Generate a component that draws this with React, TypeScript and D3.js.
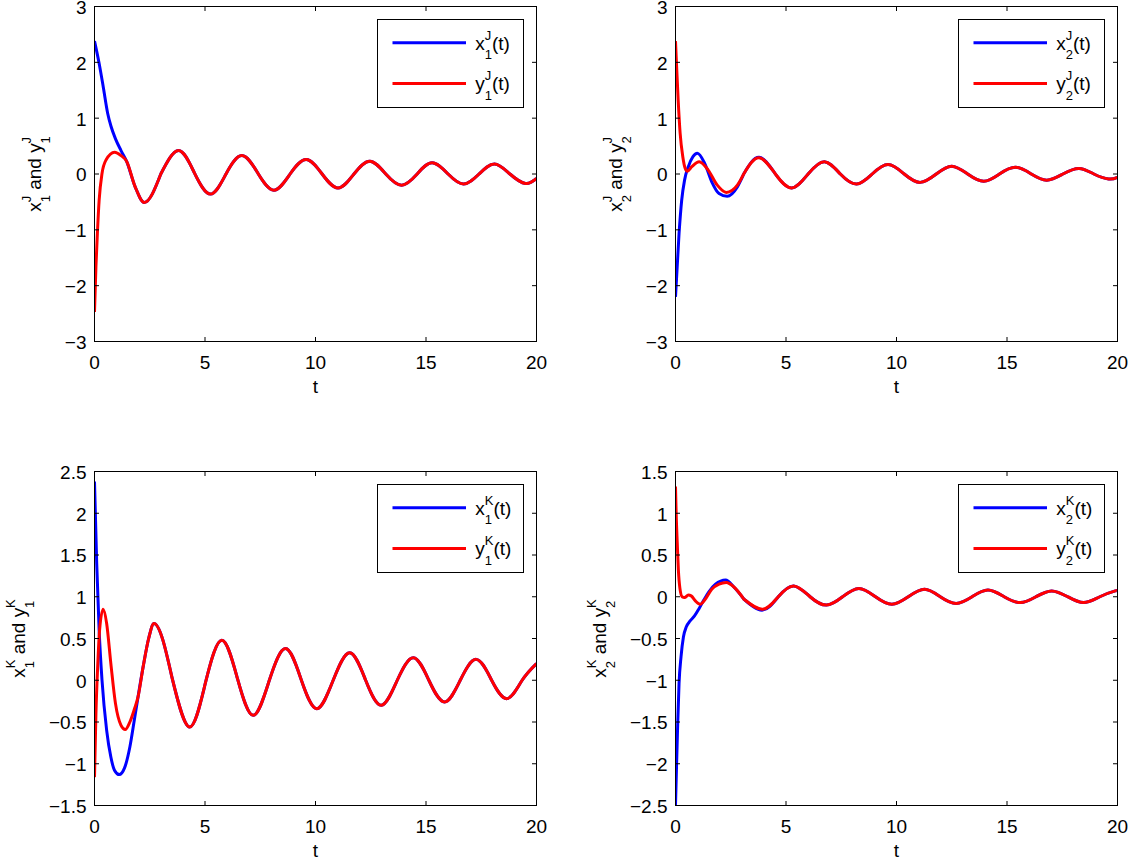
import React from 'react';
import * as d3 from 'd3';

type Pt = [number, number];

const tTicks = [0, 5, 10, 15, 20];
const yTicksTop = [-3, -2, -1, 0, 1, 2, 3];
const yTicksBL = [-1.5, -1, -0.5, 0, 0.5, 1, 1.5, 2, 2.5];
const yTicksBR = [-2.5, -2, -1.5, -1, -0.5, 0, 0.5, 1, 1.5];

// Top-left: x1^J (blue), y1^J (red)
const x1J: Pt[] = [
  [0, 2.38], [0.2, 2.0], [0.4, 1.55], [0.6, 1.08], [0.75, 0.85], [0.95, 0.63], [1.2, 0.42],
  [1.45, 0.23], [1.84, -0.23], [2.25, -0.51], [3.0, 0.0], [3.8, 0.42], [4.52, 0.02], [5.25, -0.36],
  [5.95, 0.0], [6.67, 0.33], [7.4, 0.01], [8.12, -0.29], [8.85, 0.0], [9.58, 0.26], [10.3, 0.0],
  [11.02, -0.25], [11.74, 0.0], [12.46, 0.23], [13.18, 0.0], [13.9, -0.2], [14.6, 0.0], [15.28, 0.2],
  [16.0, 0.0], [16.7, -0.18], [17.4, 0.0], [18.1, 0.18], [18.8, 0.0], [19.5, -0.17], [20, -0.08],
];
const y1J: Pt[] = [
  [0, -2.47], [0.065, -1.66], [0.13, -1.07], [0.21, -0.47], [0.34, 0.01], [0.52, 0.25], [0.91, 0.39],
  [1.2, 0.33], [1.45, 0.23], [1.84, -0.23], [2.25, -0.51], [3.0, 0.0], [3.8, 0.42], [4.52, 0.02],
  [5.25, -0.36], [5.95, 0.0], [6.67, 0.33], [7.4, 0.01], [8.12, -0.29], [8.85, 0.0], [9.58, 0.26],
  [10.3, 0.0], [11.02, -0.25], [11.74, 0.0], [12.46, 0.23], [13.18, 0.0], [13.9, -0.2], [14.6, 0.0],
  [15.28, 0.2], [16.0, 0.0], [16.7, -0.18], [17.4, 0.0], [18.1, 0.18], [18.8, 0.0], [19.5, -0.17], [20, -0.08],
];

// Top-right: x2^J (blue), y2^J (red)
const x2J: Pt[] = [
  [0, -2.2], [0.16, -1.07], [0.28, -0.47], [0.41, -0.11], [0.58, 0.13], [0.79, 0.31], [0.99, 0.37],
  [1.32, 0.19], [1.64, -0.14], [1.97, -0.35], [2.34, -0.4], [2.8, -0.23], [3.1, 0.01], [3.78, 0.3],
  [4.52, 0.0], [5.26, -0.25], [6.0, 0.0], [6.74, 0.22], [7.46, 0.0], [8.19, -0.18], [8.9, 0.0],
  [9.62, 0.17], [10.35, 0.0], [11.07, -0.15], [11.8, 0.0], [12.5, 0.14], [13.22, 0.0], [13.95, -0.13],
  [14.66, 0.0], [15.38, 0.12], [16.1, 0.0], [16.8, -0.11], [17.53, 0.0], [18.26, 0.1], [18.93, 0.0],
  [19.6, -0.09], [20, -0.06],
];
const y2J: Pt[] = [
  [0, 2.38], [0.05, 1.93], [0.12, 1.33], [0.21, 0.73], [0.33, 0.31], [0.44, 0.1], [0.54, 0.05],
  [0.74, 0.13], [1.07, 0.22], [1.48, 0.07], [1.89, -0.2], [2.3, -0.33], [2.8, -0.2], [3.1, 0.01],
  [3.78, 0.29], [4.52, 0.0], [5.26, -0.25], [6.0, 0.0], [6.74, 0.22], [7.46, 0.0], [8.19, -0.18],
  [8.9, 0.0], [9.62, 0.17], [10.35, 0.0], [11.07, -0.15], [11.8, 0.0], [12.5, 0.14], [13.22, 0.0],
  [13.95, -0.13], [14.66, 0.0], [15.38, 0.12], [16.1, 0.0], [16.8, -0.11], [17.53, 0.0], [18.26, 0.1],
  [18.93, 0.0], [19.6, -0.09], [20, -0.06],
];

// Bottom-left: x1^K (blue), y1^K (red)
const x1K: Pt[] = [
  [0, 2.38], [0.1, 1.4], [0.21, 0.6], [0.34, 0.0], [0.55, -0.6], [0.74, -0.92], [0.91, -1.08],
  [1.12, -1.13], [1.36, -1.05], [1.6, -0.8], [1.8, -0.48], [1.97, -0.2], [2.2, 0.16], [2.45, 0.5],
  [2.69, 0.68], [3.5, 0.04], [4.3, -0.56], [5.03, -0.02], [5.76, 0.48], [6.47, 0.02], [7.18, -0.42],
  [7.9, -0.01], [8.64, 0.38], [9.35, 0.01], [10.06, -0.34], [10.8, 0.0], [11.55, 0.33], [12.27, 0.0],
  [12.98, -0.3], [13.7, 0.0], [14.43, 0.27], [15.13, 0.0], [15.84, -0.26], [16.55, 0.0], [17.27, 0.25],
  [17.97, 0.0], [18.67, -0.22], [19.35, 0.0], [20, 0.2],
];
const y1K: Pt[] = [
  [0, -1.16], [0.065, -0.4], [0.15, 0.2], [0.23, 0.6], [0.39, 0.85], [0.55, 0.68], [0.74, 0.2],
  [0.95, -0.28], [1.2, -0.54], [1.39, -0.59], [1.6, -0.5], [1.8, -0.35], [1.97, -0.2], [2.2, 0.16],
  [2.45, 0.5], [2.69, 0.68], [3.5, 0.04], [4.3, -0.56], [5.03, -0.02], [5.76, 0.48], [6.47, 0.02],
  [7.18, -0.42], [7.9, -0.01], [8.64, 0.38], [9.35, 0.01], [10.06, -0.34], [10.8, 0.0], [11.55, 0.33],
  [12.27, 0.0], [12.98, -0.3], [13.7, 0.0], [14.43, 0.27], [15.13, 0.0], [15.84, -0.26], [16.55, 0.0],
  [17.27, 0.25], [17.97, 0.0], [18.67, -0.22], [19.35, 0.0], [20, 0.2],
];

// Bottom-right: x2^K (blue), y2^K (red)
const x2K: Pt[] = [
  [0, -2.5], [0.05, -2.0], [0.1, -1.52], [0.16, -1.04], [0.25, -0.72], [0.36, -0.48], [0.49, -0.36],
  [0.66, -0.29], [0.86, -0.23], [1.07, -0.14], [1.28, -0.04], [1.51, 0.06], [1.81, 0.15], [2.27, 0.2],
  [2.63, 0.12], [3.1, -0.03], [3.95, -0.16], [4.65, 0.0], [5.35, 0.13], [6.09, 0.0], [6.83, -0.1],
  [7.56, 0.0], [8.3, 0.1], [9.05, 0.0], [9.79, -0.09], [10.53, 0.0], [11.27, 0.09], [11.98, 0.0],
  [12.7, -0.08], [13.42, 0.0], [14.14, 0.08], [14.87, 0.0], [15.6, -0.07], [16.31, 0.0], [17.02, 0.07],
  [17.75, 0.0], [18.47, -0.07], [19.2, 0.0], [19.9, 0.07], [20, 0.065],
];
const y2K: Pt[] = [
  [0, 1.32], [0.03, 1.0], [0.08, 0.64], [0.13, 0.32], [0.2, 0.1], [0.3, 0.0], [0.41, -0.01],
  [0.58, 0.02], [0.71, 0.01], [0.9, -0.05], [1.12, -0.09], [1.32, -0.04], [1.64, 0.09], [1.97, 0.15],
  [2.3, 0.17], [2.63, 0.12], [3.1, -0.03], [3.95, -0.15], [4.65, 0.0], [5.35, 0.13], [6.09, 0.0],
  [6.83, -0.1], [7.56, 0.0], [8.3, 0.1], [9.05, 0.0], [9.79, -0.09], [10.53, 0.0], [11.27, 0.09],
  [11.98, 0.0], [12.7, -0.08], [13.42, 0.0], [14.14, 0.08], [14.87, 0.0], [15.6, -0.07], [16.31, 0.0],
  [17.02, 0.07], [17.75, 0.0], [18.47, -0.07], [19.2, 0.0], [19.9, 0.07], [20, 0.065],
];

const FONT = '"Liberation Sans", Arial, Helvetica, sans-serif';
const FS = 19;
const SFS = 13;
const BLUE = '#0000ff';
const RED = '#ff0000';

const fmt = (v: number) => (v < 0 ? '\u2212' + String(Math.abs(v)) : String(v));

function scripted(base: string, sub: string, sup: string, after: string, key: string) {
  const supW = (sup === 'K' ? 0.667 : 0.5) * SFS;
  const subW = 0.556 * SFS;
  return [
    <tspan key={key + 'b'}>{base}</tspan>,
    <tspan key={key + 'p'} fontSize={SFS} dy={-10}>{sup}</tspan>,
    <tspan key={key + 's'} fontSize={SFS} dx={-supW} dy={19.3}>{sub}</tspan>,
    <tspan key={key + 'a'} dx={Math.max(0, supW - subW)} dy={-9.3}>{after}</tspan>,
  ];
}

interface PanelProps {
  id: string;
  left: number; right: number; top: number; bottom: number;
  yDomain: [number, number];
  yTicks: number[];
  blue: Pt[]; red: Pt[];
  sub: string; sup: string;
  labelGap: number;
  splitT: number;
}

function Panel(p: PanelProps) {
  const x = d3.scaleLinear().domain([0, 20]).range([p.left, p.right]);
  const y = d3.scaleLinear().domain(p.yDomain).range([p.bottom, p.top]);
  const head = d3.line<Pt>().x(d => x(d[0])).y(d => y(d[1])).curve(d3.curveMonotoneX);
  const tail = d3.line<Pt>().x(d => x(d[0])).y(d => y(d[1])).curve(d3.curveNatural);
  const path = (s: Pt[]) => {
    const h = s.filter(d => d[0] <= p.splitT);
    const t = s.filter(d => d[0] >= p.splitT);
    const tp = (tail(t) || '').replace(/^M[^A-Za-z]*/, '');
    return (head(h) || '') + tp;
  };
  const TL = 4.5;
  const lgW = 146, lgH = 88;
  const lgL = p.right - 13 - lgW;
  const lgT = p.top + 13;
  const cy = (p.top + p.bottom) / 2;
  const cx = (p.left + p.right) / 2;
  const supW = (p.sup === 'K' ? 0.667 : 0.5) * SFS;
  return (
    <g>
      <defs>
        <clipPath id={'clip' + p.id}>
          <rect x={p.left} y={p.top} width={p.right - p.left} height={p.bottom - p.top} />
        </clipPath>
      </defs>
      <g clipPath={`url(#clip${p.id})`} fill="none" strokeWidth={3} strokeLinejoin="round">
        <path d={path(p.blue)} stroke={BLUE} />
        <path d={path(p.red)} stroke={RED} />
      </g>
      <rect x={p.left} y={p.top} width={p.right - p.left} height={p.bottom - p.top} fill="none" stroke="#000" strokeWidth={1} />
      {tTicks.map(t => (
        <g key={'xt' + t}>
          <line x1={x(t)} x2={x(t)} y1={p.bottom} y2={p.bottom - TL} stroke="#000" />
          <line x1={x(t)} x2={x(t)} y1={p.top} y2={p.top + TL} stroke="#000" />
          <text x={x(t)} y={p.bottom + 27} textAnchor="middle" fontSize={FS}>{fmt(t)}</text>
        </g>
      ))}
      {p.yTicks.map(v => (
        <g key={'yt' + v}>
          <line x1={p.left} x2={p.left + TL} y1={y(v)} y2={y(v)} stroke="#000" />
          <line x1={p.right} x2={p.right - TL} y1={y(v)} y2={y(v)} stroke="#000" />
          <text x={p.left - 8} y={y(v) + 7.4} textAnchor="end" fontSize={FS}>{fmt(v)}</text>
        </g>
      ))}
      <text x={cx} y={p.bottom + 51} textAnchor="middle" fontSize={FS}>t</text>
      <text
        transform={`translate(${p.left - p.labelGap},${cy}) rotate(-90)`}
        textAnchor="middle"
        fontSize={FS}
        style={{ whiteSpace: 'pre' }}
      >
        {scripted('x', p.sub, p.sup, ' and y', 'a')}
        {[
          <tspan key="z1" fontSize={SFS} dy={-10}>{p.sup}</tspan>,
          <tspan key="z2" fontSize={SFS} dx={-supW} dy={19.3}>{p.sub}</tspan>,
        ]}
      </text>
      <rect x={lgL} y={lgT} width={lgW} height={lgH} fill="#fff" stroke="#000" strokeWidth={1} />
      <line x1={lgL + 15} x2={lgL + 88.5} y1={lgT + 23.3} y2={lgT + 23.3} stroke={BLUE} strokeWidth={3} />
      <line x1={lgL + 15} x2={lgL + 88.5} y1={lgT + 64} y2={lgT + 64} stroke={RED} strokeWidth={3} />
      <text x={lgL + 97.7} y={lgT + 30} fontSize={FS}>{scripted('x', p.sub, p.sup, '(t)', 'l1')}</text>
      <text x={lgL + 97.7} y={lgT + 70.7} fontSize={FS}>{scripted('y', p.sub, p.sup, '(t)', 'l2')}</text>
    </g>
  );
}

export default function App() {
  return (
    <svg
      width={1128}
      height={859}
      viewBox="0 0 1128 859"
      style={{ position: 'absolute', left: 0, top: 0, display: 'block', background: '#fff' }}
      fontFamily={FONT}
    >
      <Panel id="tl" left={94.5} right={536.5} top={6.5} bottom={341.5} yDomain={[-3, 3]} yTicks={yTicksTop}
        blue={x1J} red={y1J} sub="1" sup="J" labelGap={53.5} splitT={3.0} />
      <Panel id="tr" left={675.5} right={1117.5} top={6.5} bottom={341.5} yDomain={[-3, 3]} yTicks={yTicksTop}
        blue={x2J} red={y2J} sub="2" sup="J" labelGap={53.5} splitT={3.1} />
      <Panel id="bl" left={94.5} right={536.5} top={471.5} bottom={805.5} yDomain={[-1.5, 2.5]} yTicks={yTicksBL}
        blue={x1K} red={y1K} sub="1" sup="K" labelGap={70} splitT={3.5} />
      <Panel id="br" left={675.5} right={1117.5} top={471.5} bottom={805.5} yDomain={[-2.5, 1.5]} yTicks={yTicksBR}
        blue={x2K} red={y2K} sub="2" sup="K" labelGap={70} splitT={3.1} />
    </svg>
  );
}
